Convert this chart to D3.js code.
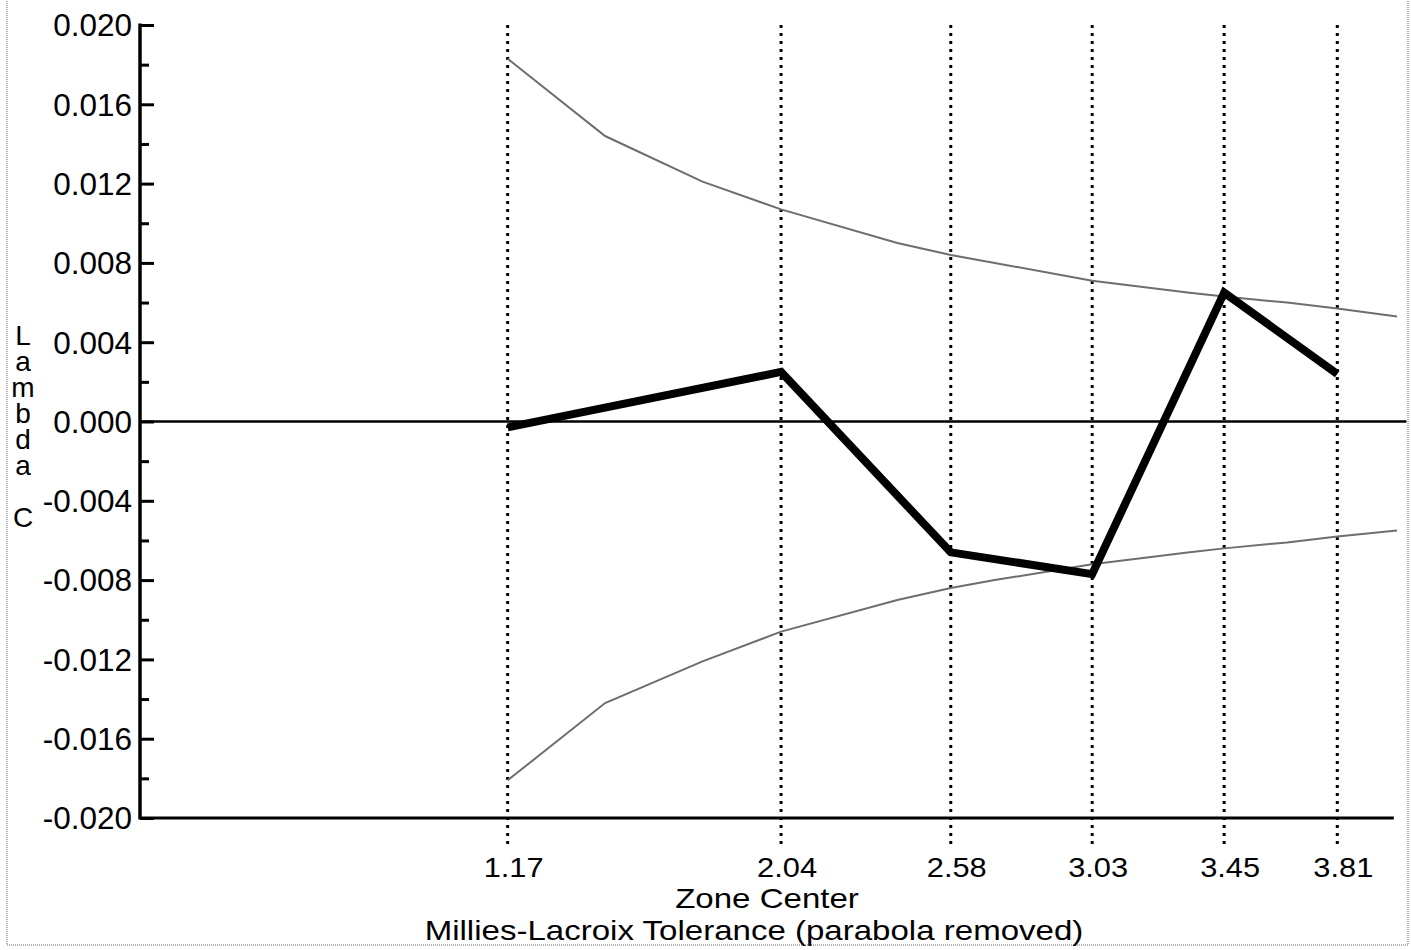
<!DOCTYPE html>
<html>
<head>
<meta charset="utf-8">
<script src="https://cdn.jsdelivr.net/npm/d3@7"></script>
<style>
  html, body { margin: 0; padding: 0; background: #fff; }
  svg { display: block; }
  text { font-family: "Liberation Sans", Arial, Helvetica, sans-serif; fill: #000; }
</style>
</head>
<body>
<script>
// ---------- data ----------
const zoneCenters = [1.17, 2.04, 2.58, 3.03, 3.45, 3.81];
const zoneLabels  = ["1.17", "2.04", "2.58", "3.03", "3.45", "3.81"];
const lambdaC     = [-0.0003, 0.0025, -0.0066, -0.0077, 0.0065, 0.0024];

const boundX     = [1.17, 1.48, 1.79, 2.04, 2.41, 2.58, 2.72, 3.03, 3.34, 3.45, 3.65, 3.81, 4.0];
const upperBound = [0.0183, 0.0144, 0.0121, 0.0107, 0.0090, 0.0084, 0.0080, 0.0071, 0.0065, 0.0063, 0.0060, 0.0057, 0.0053];
const lowerBound = [-0.0181, -0.0142, -0.0121, -0.0106, -0.0090, -0.0084, -0.0080, -0.0072, -0.0066, -0.0064, -0.0061, -0.0058, -0.0055];

const yMajorTicks = [0.020, 0.016, 0.012, 0.008, 0.004, 0.000, -0.004, -0.008, -0.012, -0.016, -0.020];
const yMinorTicks = [0.018, 0.014, 0.010, 0.006, 0.002, -0.002, -0.006, -0.010, -0.014, -0.018];
const yTitle   = "Lambda C";
const xTitle   = "Zone Center";
const subTitle = "Millies-Lacroix Tolerance (parabola removed)";

// ---------- layout ----------
const W = 1411, H = 950;
const svg = d3.select("body").append("svg").attr("width", W).attr("height", H);

const x = d3.scaleLinear().domain([0, 4]).range([140, 1397]);
const y = d3.scaleLinear().domain([-0.020, 0.020]).range([818, 25]);

// widen glyphs horizontally (scan is slightly stretched) without growing line height
function widen(sel, factor) {
  sel.each(function () {
    const w = this.getComputedTextLength();
    d3.select(this).attr("textLength", w * factor).attr("lengthAdjust", "spacingAndGlyphs");
  });
}

// frame (scanned page border)
svg.append("rect")
  .attr("x", 7).attr("y", -2).attr("width", 1401).attr("height", 947)
  .attr("fill", "none").attr("stroke", "#9a9a9a").attr("stroke-width", 1.5)
  .attr("stroke-dasharray", "1,1");

// vertical dotted lines at zone centers
svg.append("g").selectAll("line").data(zoneCenters).join("line")
  .attr("x1", d => x(d)).attr("x2", d => x(d))
  .attr("y1", y(0.020)).attr("y2", y(-0.020) + 30)
  .attr("stroke", "#000").attr("stroke-width", 3)
  .attr("stroke-dasharray", "3,5");

// zero line
svg.append("line")
  .attr("x1", x(0)).attr("x2", x(4.03))
  .attr("y1", y(0)).attr("y2", y(0))
  .attr("stroke", "#000").attr("stroke-width", 2.5);

// bottom axis line
svg.append("line")
  .attr("x1", x(0)).attr("x2", x(3.99))
  .attr("y1", y(-0.020)).attr("y2", y(-0.020))
  .attr("stroke", "#000").attr("stroke-width", 3);

// y axis
const yAxisMajor = d3.axisRight(y).tickValues(yMajorTicks).tickSize(14).tickFormat("");
const gy = svg.append("g").attr("transform", `translate(${x(0)},0)`).call(yAxisMajor);
gy.select(".domain").remove();
gy.selectAll(".tick line").attr("stroke", "#000").attr("stroke-width", 3);
const yAxisMinor = d3.axisRight(y).tickValues(yMinorTicks).tickSize(9).tickFormat("");
const gy2 = svg.append("g").attr("transform", `translate(${x(0)},0)`).call(yAxisMinor);
gy2.select(".domain").remove();
gy2.selectAll(".tick line").attr("stroke", "#000").attr("stroke-width", 3);
svg.append("line")
  .attr("x1", x(0)).attr("x2", x(0))
  .attr("y1", y(0.020) - 1.5).attr("y2", y(-0.020) + 1.5)
  .attr("stroke", "#000").attr("stroke-width", 3.5);

// y tick labels
svg.append("g").selectAll("text").data(yMajorTicks).join("text")
  .attr("x", 132).attr("y", d => y(d))
  .attr("dy", "0.36em")
  .attr("text-anchor", "end")
  .attr("font-size", 31.5)
  .text(d => d3.format(".3f")(d).replace("−", "-"));

// y axis title (letters stacked vertically, upright)
svg.append("text")
  .attr("x", 23).attr("y", 320)
  .attr("font-size", 28)
  .style("writing-mode", "vertical-rl")
  .style("text-orientation", "upright")
  .style("letter-spacing", "-5px")
  .text(yTitle);

// x tick labels
svg.append("g").selectAll("text").data(zoneCenters).join("text")
  .attr("x", d => x(d) + 6).attr("y", 877)
  .attr("text-anchor", "middle")
  .attr("font-size", 28)
  .text((d, i) => zoneLabels[i])
  .call(widen, 1.1);

// x title & subtitle
svg.append("text").attr("x", 767).attr("y", 908)
  .attr("text-anchor", "middle").attr("font-size", 28).text(xTitle)
  .call(widen, 1.18);
svg.append("text").attr("x", 754).attr("y", 940)
  .attr("text-anchor", "middle").attr("font-size", 28).text(subTitle)
  .call(widen, 1.18);

// tolerance bounds
const boundLine = d3.line().x(d => x(d[0])).y(d => y(d[1]));
svg.append("path")
  .datum(boundX.map((v, i) => [v, upperBound[i]]))
  .attr("d", boundLine)
  .attr("fill", "none").attr("stroke", "#6e6e6e").attr("stroke-width", 2);
svg.append("path")
  .datum(boundX.map((v, i) => [v, lowerBound[i]]))
  .attr("d", boundLine)
  .attr("fill", "none").attr("stroke", "#6e6e6e").attr("stroke-width", 2);

// main series
svg.append("path")
  .datum(zoneCenters.map((v, i) => [v, lambdaC[i]]))
  .attr("d", d3.line().x(d => x(d[0])).y(d => y(d[1])))
  .attr("fill", "none").attr("stroke", "#000").attr("stroke-width", 8)
  .attr("stroke-linejoin", "miter");
</script>
</body>
</html>
